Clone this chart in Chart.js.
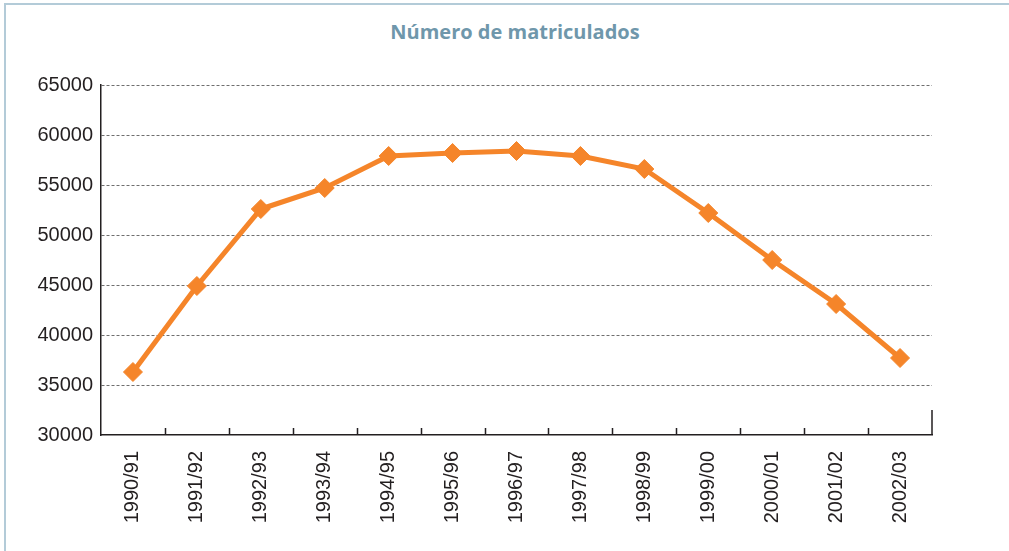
<!DOCTYPE html>
<html>
<head>
<meta charset="utf-8">
<script src="https://cdn.jsdelivr.net/npm/chart.js@4.4.1/dist/chart.umd.min.js"></script>
<style>
  html, body { margin: 0; padding: 0; background: #fff; }
  #frame {
    position: absolute; left: 4px; top: 3px; width: 1020px; height: 600px;
    border-left: 2px solid #b3cbd8; border-top: 2px solid #b3cbd8;
  }
  #title {
    position: absolute; left: 0; top: 18px; width: 1030px; text-align: center;
    font: bold 20px 'Open Sans', sans-serif; color: #6f97ab;
  }
  #wrap { position: absolute; left: 0; top: 0; width: 1009px; height: 551px; }
</style>
</head>
<body>
<div id="frame"></div>
<div id="title">Número de matriculados</div>
<div id="wrap"><canvas id="chart"></canvas></div>
<script>
document.addEventListener('DOMContentLoaded', function() {
    const categories = ['1990/91', '1991/92', '1992/93', '1993/94', '1994/95', '1995/96', '1996/97',
        '1997/98', '1998/99', '1999/00', '2000/01', '2001/02', '2002/03'];
    const matriculados = [36300, 44900, 52600, 54700, 57900, 58200, 58400, 57900, 56600, 52200, 47500, 43100, 37700];
    const yTicks = [30000, 35000, 40000, 45000, 50000, 55000, 60000, 65000];

    const orange = '#f5852a';
    const ink = '#231f20';

    // tick marks pointing up from the category axis, plus the short right edge
    const axisTicks = {
        id: 'axisTicks',
        afterDatasetsDraw(chart) {
            const ctx = chart.ctx;
            const area = chart.chartArea;
            const x = chart.scales.x;
            ctx.save();
            ctx.strokeStyle = ink;
            ctx.lineWidth = 1.5;
            ctx.beginPath();
            for (let i = 1; i < categories.length; i++) {
                const px = Math.round((x.getPixelForValue(i - 1) + x.getPixelForValue(i)) / 2) + 0.5;
                ctx.moveTo(px, area.bottom);
                ctx.lineTo(px, area.bottom - 7);
            }
            ctx.moveTo(area.right, area.bottom);
            ctx.lineTo(area.right, area.bottom - 25);
            ctx.stroke();
            ctx.restore();
        }
    };

    const ctx = document.getElementById('chart').getContext('2d');
    new Chart(ctx, {
        type: 'line',
        data: {
            labels: categories,
            datasets: [{
                label: 'Número de matriculados',
                data: matriculados,
                borderColor: orange,
                backgroundColor: orange,
                borderWidth: 5,
                pointStyle: 'rectRot',
                pointRadius: 9.5,
                pointBorderWidth: 1,
                pointBackgroundColor: orange,
                pointBorderColor: orange,
                tension: 0
            }]
        },
        options: {
            responsive: true,
            maintainAspectRatio: false,
            animation: false,
            layout: { padding: { left: 0, right: 77, top: 85, bottom: 0 } },
            plugins: {
                legend: { display: false },
                tooltip: { enabled: false },
                title: { display: false }
            },
            scales: {
                x: {
                    offset: true,
                    afterFit(scale) { scale.height = 116; },
                    border: { display: true, color: ink, width: 1.5 },
                    grid: { display: false },
                    ticks: {
                        color: ink,
                        minRotation: 90,
                        maxRotation: 90,
                        padding: 8,
                        font: { family: 'Liberation Sans', size: 20 }
                    }
                },
                y: {
                    min: 30000,
                    max: 65000,
                    afterFit(scale) { scale.width = 101; },
                    afterBuildTicks(scale) { scale.ticks = yTicks.map(v => ({ value: v })); },
                    border: { display: true, color: ink, width: 1.5, dash: [3, 2] },
                    grid: {
                        color: c => (c.tick && c.tick.value === 30000 ? 'rgba(0,0,0,0)' : '#6e6e6e'),
                        lineWidth: 1,
                        drawTicks: false
                    },
                    ticks: {
                        color: ink,
                        padding: 8,
                        font: { family: 'Liberation Sans', size: 20 },
                        callback: v => String(v)
                    }
                }
            }
        },
        plugins: [axisTicks]
    });
});
</script>
</body>
</html>
